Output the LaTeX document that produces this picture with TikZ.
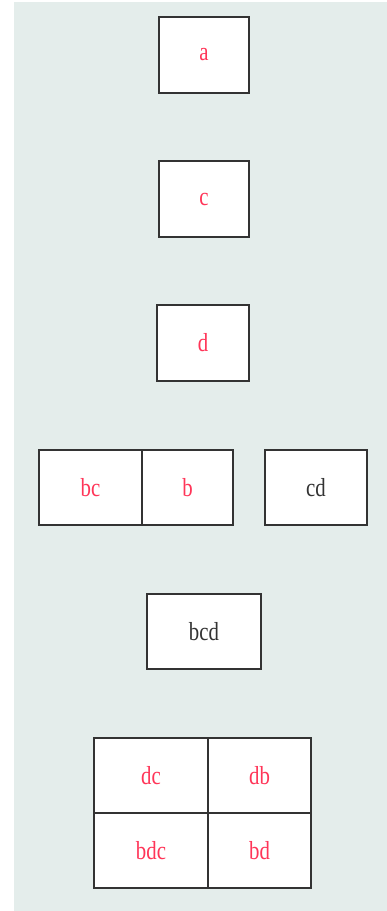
\documentclass[tikz,border=0pt]{standalone}
\usepackage{fontspec}
\setmainfont{Liberation Serif}[FakeStretch=0.8]
\usetikzlibrary{positioning}

\definecolor{panel}{HTML}{E4EDEB}
\definecolor{hit}{HTML}{FF3558}
\definecolor{miss}{HTML}{333333}

\tikzset{
	cell/.style={draw=miss, line width=1.3pt, fill=white, inner sep=0pt, outer sep=0pt,
		minimum height=75pt, font=\fontsize{26}{30}\selectfont},
	found/.style={cell, text=hit},
	kept/.style={cell, text=miss}
}

\begin{document}
\begin{tikzpicture}[x=1pt, y=-1pt]
	\useasboundingbox (0,0) rectangle (387,911);
	\fill[panel] (14,2) rectangle (387,911);

	% single keys
	\node[found, minimum width=90pt, minimum height=76pt] (a) at (204,55) {a};
	\node[found, minimum width=90pt, minimum height=76pt] (c) at (204,199) {c};
	\node[found, minimum width=92pt, minimum height=76pt] (d) at (203,343) {d};

	% pairs
	\node[found, minimum width=103pt] (bc) at (90.5,487.5) {bc};
	\node[found, minimum width=91pt, right=0pt of bc] (b) {b};
	\node[kept, minimum width=102pt] (cd) at (316,487.5) {cd};

	\node[kept, minimum width=114pt] (bcd) at (204,631.5) {bcd};

	% grid of four
	\node[found, minimum width=114pt] (dc) at (151,775.5) {dc};
	\node[found, minimum width=103pt, right=0pt of dc] (db) {db};
	\node[found, minimum width=114pt, below=0pt of dc] (bdc) {bdc};
	\node[found, minimum width=103pt, right=0pt of bdc] (bd) {bd};
\end{tikzpicture}
\end{document}
